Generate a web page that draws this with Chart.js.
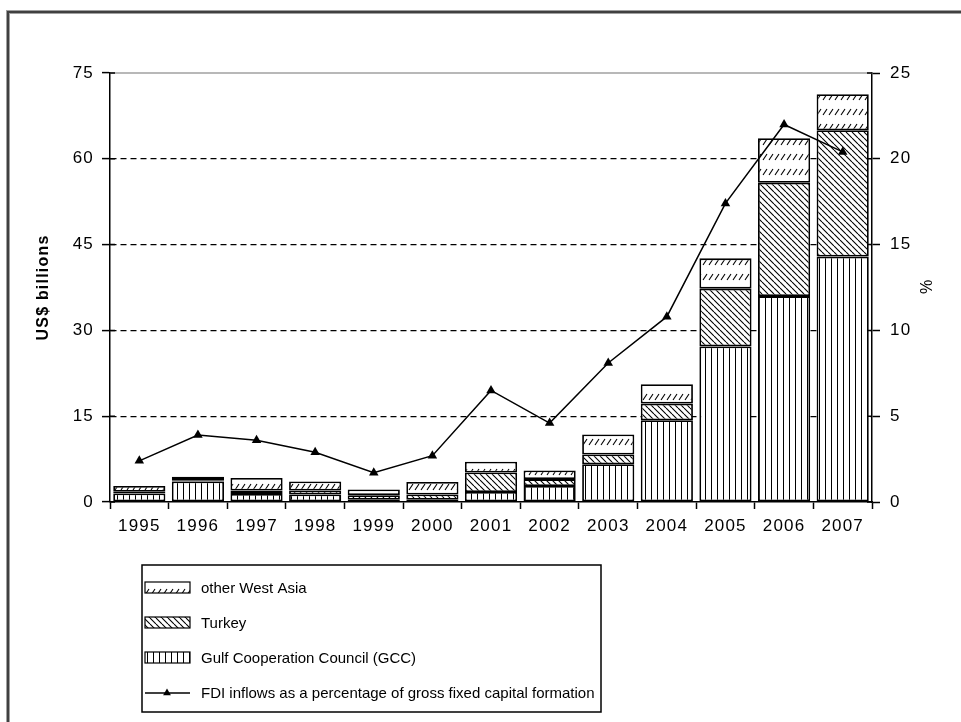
<!DOCTYPE html>
<html>
<head>
<meta charset="utf-8">
<title>FDI inflows to West Asia, 1995-2007</title>
<script src="https://cdn.jsdelivr.net/npm/chart.js@4.4.0/dist/chart.umd.min.js"></script>
<style>
    html, body { margin: 0; padding: 0; background: #fff; }
    #wrap { width: 961px; height: 722px; }
</style>
</head>
<body>
<div id="wrap"><canvas id="fdiChart" width="961" height="722"></canvas></div>
<script>
// Values (US$ billions, and % of GFCF)
const years = ['1995', '1996', '1997', '1998', '1999', '2000', '2001', '2002', '2003', '2004', '2005', '2006', '2007'];
const gccValues = [1.5, 3.6, 1.4, 1.3, 0.4, 0.4, 1.75, 2.8, 6.6, 14.3, 27.2, 36.0, 42.9];
const turkeyValues = [0.3, 0.2, 0.6, 0.7, 0.8, 0.9, 3.4, 1.2, 1.7, 2.9, 10.1, 19.8, 22.1];
const otherWestAsiaValues = [1.0, 0.6, 2.2, 1.6, 1.0, 2.2, 1.9, 1.5, 3.5, 3.4, 5.3, 7.8, 6.3];
const fdiShareValues = [2.4, 3.9, 3.6, 2.9, 1.7, 2.7, 6.5, 4.6, 8.1, 10.8, 17.4, 22.0, 20.4];

const billionAxis = { min: 0, max: 75, step: 15 };
const percentAxis = { min: 0, max: 25, step: 5 };

const labelFont = 'Liberation Sans, Arial, sans-serif';

// Hatch patterns like the old Excel fills
function makePattern(kind) {
    const c = document.createElement('canvas');
    const g = c.getContext('2d');
    c.width = 6;
    c.height = kind === 'dashes' ? 15 : 6;
    g.fillStyle = '#fff';
    g.fillRect(0, 0, c.width, c.height);
    g.strokeStyle = '#000';
    g.fillStyle = '#000';
    g.lineWidth = 1.1;
    if (kind === 'vertical') {
        g.fillRect(3, 0, 1, 6);
    } else if (kind === 'diagonal') {
        g.beginPath();
        [-6, 0, 6].forEach(k => {
            g.moveTo(k, 0);
            g.lineTo(k + 6, 6);
        });
        g.stroke();
    } else {
        g.beginPath();
        g.moveTo(1, 10);
        g.lineTo(5, 4);
        g.stroke();
    }
    return g.createPattern(c, 'repeat');
}

const gccFill = makePattern('vertical');
const turkeyFill = makePattern('diagonal');
const otherFill = makePattern('dashes');

// Page frame, top line of the plot and inner tick marks
const framePlugin = {
    id: 'frame',
    beforeDraw(chart) {
        const ctx = chart.ctx;
        ctx.save();
        ctx.fillStyle = '#fff';
        ctx.fillRect(0, 0, chart.width, chart.height);
        ctx.strokeStyle = '#a0a0a0';
        ctx.lineWidth = 4;
        ctx.beginPath();
        ctx.moveTo(8, chart.height);
        ctx.lineTo(8, 12);
        ctx.lineTo(chart.width, 12);
        ctx.stroke();
        ctx.strokeStyle = '#404040';
        ctx.lineWidth = 2;
        ctx.stroke();
        ctx.restore();
        ctx.letterSpacing = '1.2px';
    },
    beforeDatasetsDraw(chart) {
        const ctx = chart.ctx;
        const area = chart.chartArea;
        ctx.letterSpacing = '0px';
        ctx.save();
        ctx.strokeStyle = '#a0a0a0';
        ctx.lineWidth = 1.5;
        ctx.beginPath();
        ctx.moveTo(area.left, area.top);
        ctx.lineTo(area.right, area.top);
        ctx.stroke();
        ctx.strokeStyle = '#000';
        ctx.lineWidth = 1.5;
        ctx.beginPath();
        chart.scales.y.ticks.forEach(t => {
            const py = chart.scales.y.getPixelForValue(t.value);
            ctx.moveTo(area.left, py);
            ctx.lineTo(area.left + 5, py);
        });
        chart.scales.y2.ticks.forEach(t => {
            const py = chart.scales.y2.getPixelForValue(t.value);
            ctx.moveTo(area.right - 5, py);
            ctx.lineTo(area.right, py);
        });
        ctx.stroke();
        ctx.restore();
    }
};

// Boxed legend under the chart, one entry per row
const boxLegendPlugin = {
    id: 'boxLegend',
    afterDraw(chart) {
        const ctx = chart.ctx;
        const box = { left: 142, top: 565, width: 459, height: 147 };
        const rows = [588, 623, 658, 693];
        const order = [2, 1, 0, 3];

        ctx.save();
        ctx.letterSpacing = '0px';
        ctx.strokeStyle = '#000';
        ctx.lineWidth = 1.5;
        ctx.strokeRect(box.left, box.top, box.width, box.height);

        ctx.font = '15px ' + labelFont;
        ctx.textBaseline = 'middle';
        order.forEach((idx, i) => {
            const ds = chart.data.datasets[idx];
            const y = rows[i];
            if (ds.type === 'line') {
                ctx.strokeStyle = '#000';
                ctx.lineWidth = 1.5;
                ctx.beginPath();
                ctx.moveTo(145, y);
                ctx.lineTo(190, y);
                ctx.stroke();
                ctx.fillStyle = '#000';
                Chart.helpers.drawPoint(ctx, { pointStyle: 'triangle', radius: 4.5, borderWidth: 0 }, 167, y);
            } else {
                ctx.fillStyle = ds.backgroundColor;
                ctx.fillRect(145, y - 6, 45, 11);
                ctx.strokeStyle = '#000';
                ctx.lineWidth = 1.2;
                ctx.strokeRect(145, y - 6, 45, 11);
            }
            ctx.fillStyle = '#000';
            ctx.fillText(ds.label, 201, y + 1);
        });
        ctx.restore();
    }
};

const barStyle = {
    type: 'bar',
    yAxisID: 'y',
    borderColor: '#000',
    borderWidth: 1.8,
    borderSkipped: false,
    barPercentage: 0.89,
    categoryPercentage: 1,
    order: 1
};

new Chart(document.getElementById('fdiChart'), {
    data: {
        labels: years,
        datasets: [
            Object.assign({ label: 'Gulf Cooperation Council (GCC)', data: gccValues, backgroundColor: gccFill }, barStyle),
            Object.assign({ label: 'Turkey', data: turkeyValues, backgroundColor: turkeyFill }, barStyle),
            Object.assign({ label: 'other West Asia', data: otherWestAsiaValues, backgroundColor: otherFill }, barStyle),
            {
                type: 'line',
                label: 'FDI inflows as a percentage of gross fixed capital formation',
                data: fdiShareValues,
                yAxisID: 'y2',
                borderColor: '#000',
                borderWidth: 1.5,
                tension: 0,
                pointStyle: 'triangle',
                pointRadius: 5.5,
                pointBackgroundColor: '#000',
                pointBorderColor: '#000',
                pointBorderWidth: 0,
                order: 0
            }
        ]
    },
    options: {
        responsive: false,
        animation: false,
        devicePixelRatio: 1,
        layout: { padding: { left: 0, right: 0, top: 73, bottom: 180 } },
        plugins: {
            legend: { display: false },
            tooltip: { enabled: false }
        },
        scales: {
            x: {
                stacked: true,
                offset: true,
                grid: {
                    offset: true,
                    drawOnChartArea: false,
                    tickLength: 7,
                    tickColor: '#000',
                    tickWidth: 1.5
                },
                border: { color: '#000', width: 1.5 },
                ticks: {
                    color: '#000',
                    padding: 7,
                    maxRotation: 0,
                    autoSkip: false,
                    font: { family: labelFont, size: 17 }
                },
                afterFit(scale) { scale.height = 40; }
            },
            y: {
                stacked: true,
                position: 'left',
                min: billionAxis.min,
                max: billionAxis.max,
                grid: {
                    color: ctx => (ctx.tick && ctx.tick.value > 0 && ctx.tick.value < billionAxis.max) ? '#000' : 'rgba(0,0,0,0)',
                    lineWidth: 1.2,
                    tickLength: 8,
                    tickColor: '#000',
                    tickWidth: 1.5
                },
                border: { color: '#000', width: 1.5, dash: [6, 4] },
                ticks: {
                    stepSize: billionAxis.step,
                    color: '#000',
                    padding: 8,
                    font: { family: labelFont, size: 17 }
                },
                title: {
                    display: true,
                    text: 'US$ billions',
                    color: '#000',
                    padding: { top: 34, bottom: 0 },
                    font: { family: labelFont, size: 16, weight: 'bold' }
                },
                afterFit(scale) { scale.width = 110; }
            },
            y2: {
                position: 'right',
                min: percentAxis.min,
                max: percentAxis.max,
                grid: {
                    drawOnChartArea: false,
                    tickLength: 8,
                    tickColor: '#000',
                    tickWidth: 1.5
                },
                border: { color: '#000', width: 1.5 },
                ticks: {
                    stepSize: percentAxis.step,
                    color: '#000',
                    padding: 10,
                    font: { family: labelFont, size: 17 }
                },
                title: {
                    display: true,
                    text: '%',
                    color: '#000',
                    padding: { top: 27, bottom: 0 },
                    font: { family: labelFont, size: 16 }
                },
                afterFit(scale) { scale.width = 89; }
            }
        }
    },
    plugins: [framePlugin, boxLegendPlugin]
});
</script>
</body>
</html>
